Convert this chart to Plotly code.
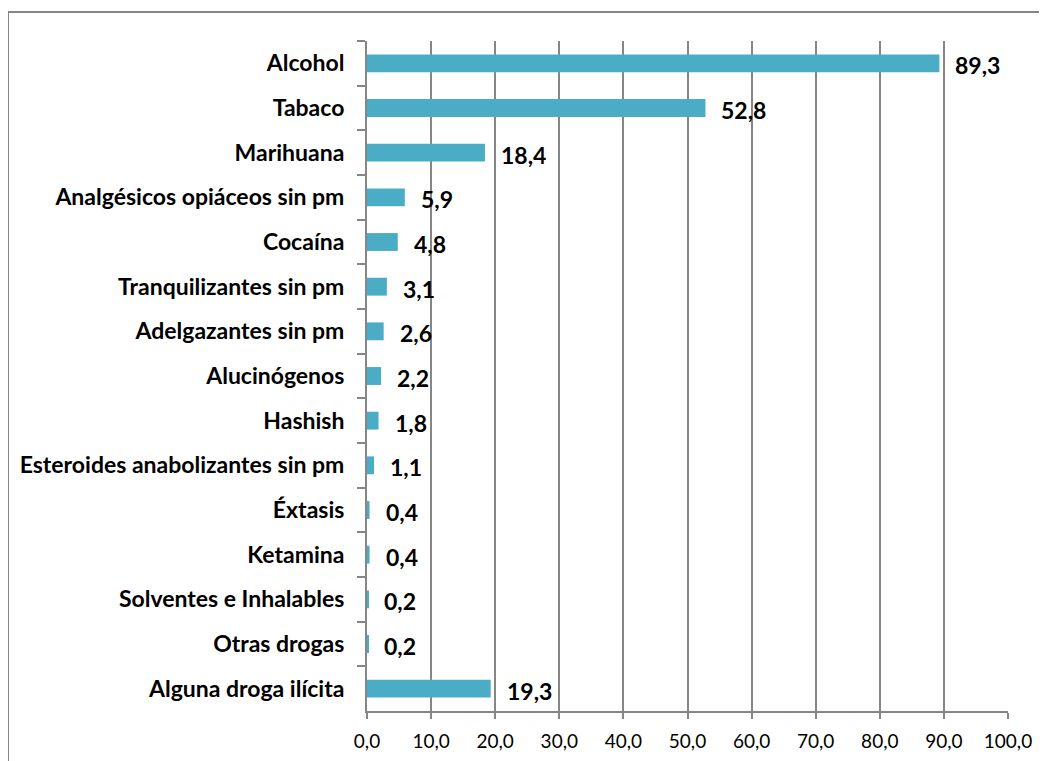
import plotly.graph_objects as go

categories = ["Alcohol", "Tabaco", "Marihuana", "Analgésicos opiáceos sin pm", "Cocaína",
              "Tranquilizantes sin pm", "Adelgazantes sin pm", "Alucinógenos", "Hashish",
              "Esteroides anabolizantes sin pm", "Éxtasis", "Ketamina", "Solventes e Inhalables",
              "Otras drogas", "Alguna droga ilícita"]
values = [89.3, 52.8, 18.4, 5.9, 4.8, 3.1, 2.6, 2.2, 1.8, 1.1, 0.4, 0.4, 0.2, 0.2, 19.3]
x_ticks = [0, 10, 20, 30, 40, 50, 60, 70, 80, 90, 100]
x_tick_labels = ["0,0", "10,0", "20,0", "30,0", "40,0", "50,0", "60,0", "70,0", "80,0", "90,0", "100,0"]

GRAY = "#868686"
BAR = "#4BACC6"
# the page body adds an 8px margin, so the figure is drawn 8px in from the page corner
W, H = 1039, 753
L, T = 359, 33
R = W - 1000
B = H - 703

fig = go.Figure()
fig.add_trace(go.Bar(
    y=categories, x=values, orientation="h",
    marker=dict(color=BAR, line=dict(width=0)),
    hoverinfo="skip",
))

for c, v in zip(categories, values):
    fig.add_annotation(
        x=v, y=c, xref="x", yref="y",
        text="<b>" + f"{v:.1f}".replace(".", ",") + "</b>",
        showarrow=False, xanchor="left", yanchor="middle", xshift=14, yshift=-2,
        font=dict(family="Lato", size=23, color="#000000"),
    )

pw = W - L - R
ph = H - T - B
# outer chart frame (left/top visible, right/bottom beyond the page)
fig.add_shape(type="rect", xref="paper", yref="paper",
              x0=(0 - L) / pw, x1=(W + 20 - L) / pw,
              y0=(H - B - (H + 20)) / ph, y1=(H - B - 4) / ph,
              line=dict(color=GRAY, width=2), fillcolor="rgba(0,0,0,0)", layer="below")

fig.update_layout(
    width=W, height=H,
    margin=dict(l=L, r=R, t=T, b=B, autoexpand=False),
    paper_bgcolor="white", plot_bgcolor="white",
    showlegend=False,
    bargap=0.6,
    xaxis=dict(
        range=[0, 100], tickvals=x_ticks, ticktext=x_tick_labels,
        showgrid=True, gridcolor=GRAY, gridwidth=2,
        showline=True, linecolor=GRAY, linewidth=2,
        ticks="outside", ticklen=6, tickcolor=GRAY, tickwidth=2,
        tickfont=dict(family="Lato", size=19, color="#000000"),
        ticklabelstandoff=6, zeroline=False, fixedrange=True,
    ),
    yaxis=dict(
        categoryorder="array", categoryarray=categories, autorange="reversed",
        showline=True, linecolor=GRAY, linewidth=2,
        ticks="outside", tickson="boundaries", ticklen=8, tickcolor=GRAY, tickwidth=2,
        tickfont=dict(family="Lato", size=23, color="#000000", weight="bold"),
        ticklabelstandoff=16, showgrid=False, fixedrange=True,
    ),
)

fig.write_html("out.html")
